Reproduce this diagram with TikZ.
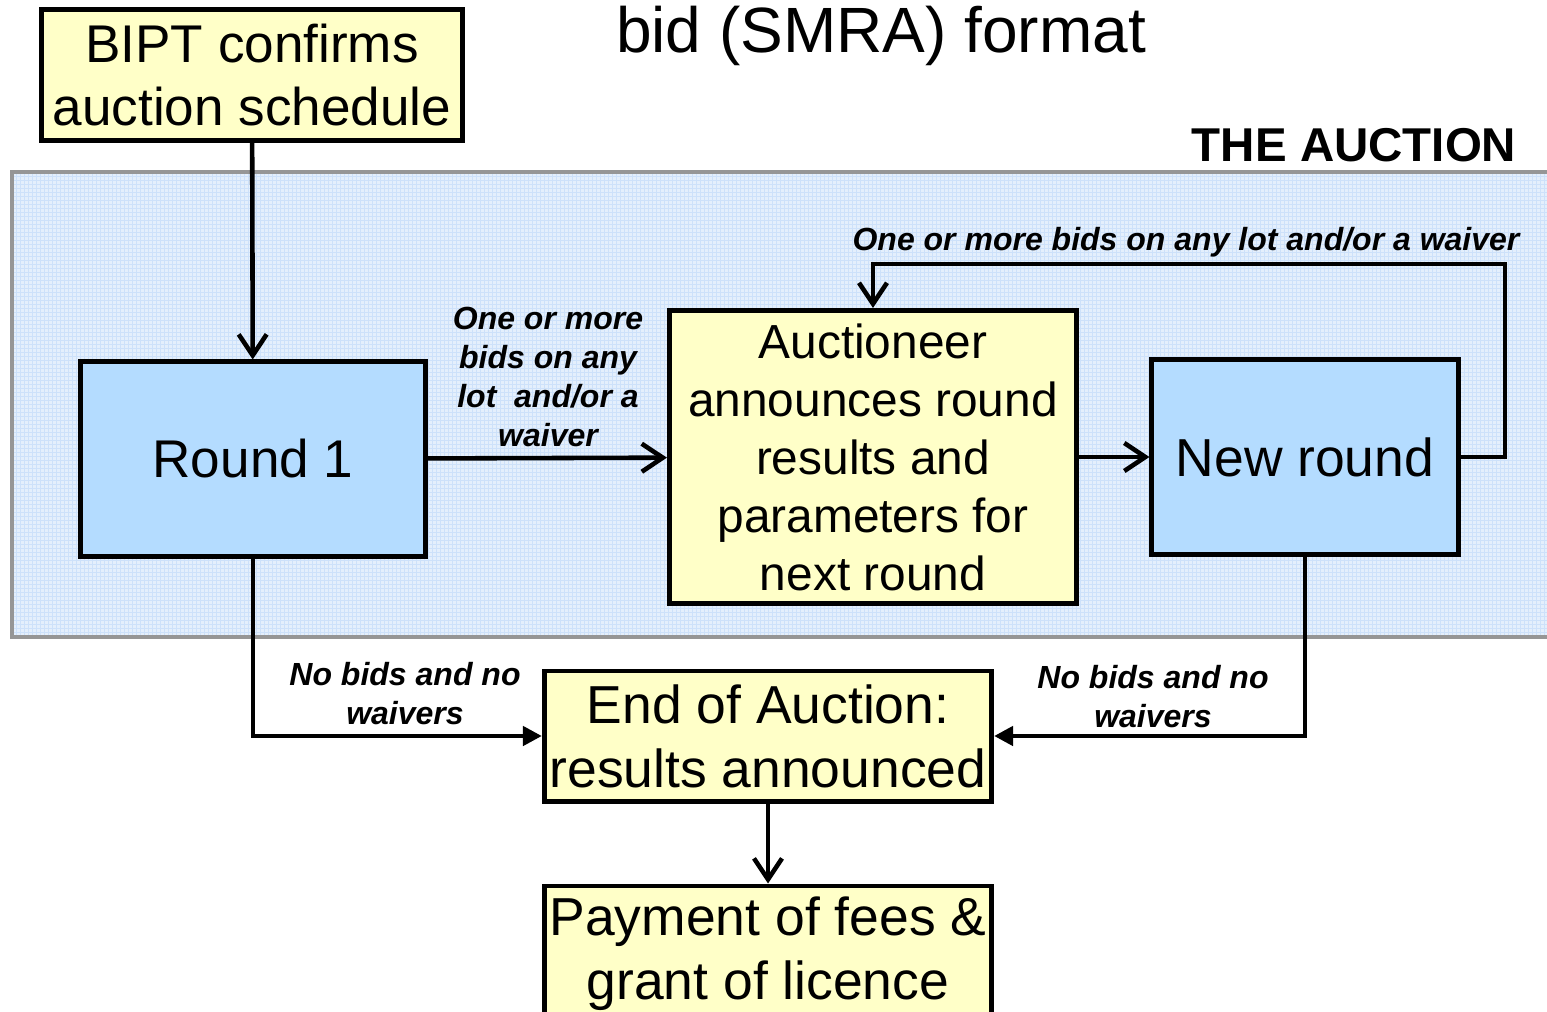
\documentclass[tikz,border=0pt]{standalone}
\usepackage{fontspec}
\setmainfont{Liberation Sans}
\usetikzlibrary{arrows.meta}
\definecolor{boxyellow}{RGB}{255,255,200}
\definecolor{boxblue}{RGB}{180,220,255}
\definecolor{zonefill}{RGB}{228,239,252}
\definecolor{zonegrid}{RGB}{205,225,250}
\definecolor{zoneedge}{RGB}{150,150,150}
\tikzset{
  stage/.style={draw=black, line width=1.4pt, inner sep=0pt, align=center},
  yellowbox/.style={stage, fill=boxyellow},
  bluebox/.style={stage, fill=boxblue},
  flow/.style={line width=1.3pt, -{Straight Barb[length=2.1mm,width=2.8mm,line width=1.3pt]}},
  exitflow/.style={line width=1.3pt, -{Triangle[length=1.9mm,width=1.9mm]}},
  cond/.style={font=\fontsize{9.1}{11.1}\selectfont\bfseries\itshape, align=center, inner sep=0pt}
}
\begin{document}
\begin{tikzpicture}[x=0.01cm,y=-0.01cm]
      \useasboundingbox (0,0) rectangle (1547,1012);
      % the auction zone
      \fill[zonefill] (12,172) rectangle (1560,637);
      \draw[zonegrid, line width=0.2pt, step=0.04cm] (14,174) grid (1560,635);
      \draw[zoneedge, line width=1.4pt] (12,172) rectangle (1560,637);
      \node[anchor=base east, inner sep=0pt, font=\fontsize{13.5}{16}\selectfont\bfseries] (zonetitle) at (1517,162) {THE AUCTION};
      \node[anchor=base, inner sep=0pt, font=\fontsize{18.2}{22}\selectfont] (title) at (881,52) {bid (SMRA) format};
      % stages
      \node[yellowbox, minimum width=4.2cm, minimum height=1.31cm, font=\fontsize{15.1}{18}\selectfont] (bipt) at (252,75) {BIPT confirms\\auction schedule};
      \node[bluebox, minimum width=3.44cm, minimum height=1.94cm, font=\fontsize{15.1}{18}\selectfont] (round1) at (253,459) {Round 1};
      \node[yellowbox, minimum width=4.07cm, minimum height=2.93cm, font=\fontsize{13.6}{16.5}\selectfont] (announce) at (873,457) {Auctioneer\\announces round\\results and\\parameters for\\next round};
      \node[bluebox, minimum width=3.06cm, minimum height=1.94cm, font=\fontsize{15.2}{18}\selectfont] (newround) at (1305,457) {New round};
      \node[yellowbox, minimum width=4.47cm, minimum height=1.30cm, font=\fontsize{15.2}{18.2}\selectfont] (end) at (768,736) {End of Auction:\\results announced};
      \node[yellowbox, minimum width=4.47cm, minimum height=1.36cm, font=\fontsize{15.2}{18.2}\selectfont] (payment) at (768,954) {Payment of fees \&\\grant of licence};
      % turning points
      \coordinate (loopA) at (1505,457);
      \coordinate (loopB) at (1505,264);
      \coordinate (loopC) at (873,264);
      % connectors
      \draw[flow] (bipt) -- (round1);
      \draw[flow] (round1) -- (announce);
      \draw[flow] (announce) -- (newround);
      \draw[flow] (newround.east) -- (loopA) -- (loopB) -- (loopC) -- (announce.north);
      \draw[exitflow] (round1.south) |- (end.west);
      \draw[exitflow] (newround.south) |- (end.east);
      \draw[flow] (end) -- (payment);
      % conditions
      \node[cond] (condR1) at (548,377) {One or more\\bids on any\\lot \ and/or a\\waiver};
      \node[cond] (condLoop) at (1186,242) {One or more bids on any lot and/or a waiver};
      \node[cond] (condEndL) at (405,694) {No bids and no\\waivers};
      \node[cond] (condEndR) at (1153,697) {No bids and no\\waivers};
\end{tikzpicture}
\end{document}
